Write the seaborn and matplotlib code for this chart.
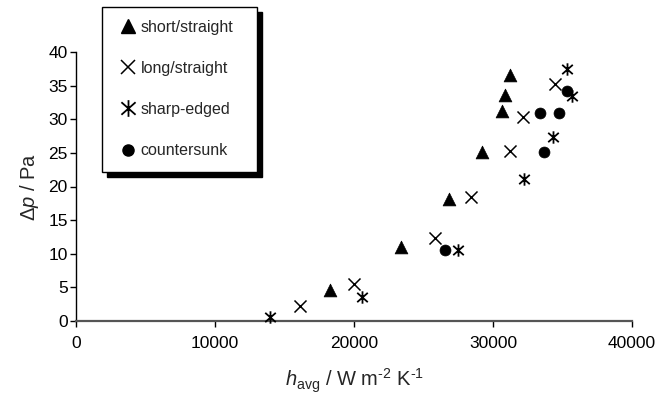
import numpy as np
import pandas as pd
import matplotlib
matplotlib.use("Agg")
import matplotlib.pyplot as plt
from matplotlib.path import Path
from matplotlib.lines import Line2D
from matplotlib.patches import Rectangle
import seaborn as sns

# ---- data ----
short_x = [18270, 23370, 26860, 29240, 30630, 30880, 31190]
short_y = [4.6, 11.0, 18.2, 25.1, 31.2, 33.6, 36.6]

long_x = [16100, 20030, 25810, 28410, 31190, 32180, 34470]
long_y = [2.3, 5.5, 12.3, 18.4, 25.3, 30.3, 35.3]

sharp_x = [13940, 20590, 27450, 32240, 34310, 35300, 35700]
sharp_y = [0.6, 3.5, 10.6, 21.1, 27.4, 37.5, 33.5]

csk_x = [26520, 33380, 34780, 33660, 35330]
csk_y = [10.5, 31.0, 31.0, 25.2, 34.2]

labels = ["short/straight", "long/straight", "sharp-edged", "countersunk"]
x_ticks = [0, 10000, 20000, 30000, 40000]
y_ticks = [0, 5, 10, 15, 20, 25, 30, 35, 40]

# ---- style ----
sns.set_style("white")
plt.rcParams["font.family"] = ["Liberation Sans", "DejaVu Sans"]
plt.rcParams["mathtext.fontset"] = "custom"
plt.rcParams["mathtext.rm"] = "Liberation Sans"
plt.rcParams["mathtext.it"] = "Liberation Sans:italic"
plt.rcParams["mathtext.default"] = "regular"

# asterisk marker: vertical line + X
ast_path = Path(
    [(0, -1), (0, 1), (-0.85, -0.75), (0.85, 0.75), (-0.85, 0.75), (0.85, -0.75)],
    [Path.MOVETO, Path.LINETO, Path.MOVETO, Path.LINETO, Path.MOVETO, Path.LINETO],
)

fig = plt.figure(figsize=(6.66, 3.97), dpi=100)
ax = fig.add_axes([76 / 666, 1 - 321 / 397, (632 - 76) / 666, (321 - 52) / 397])

df_s = pd.DataFrame({"x": short_x, "y": short_y})
df_l = pd.DataFrame({"x": long_x, "y": long_y})
df_a = pd.DataFrame({"x": sharp_x, "y": sharp_y})
df_c = pd.DataFrame({"x": csk_x, "y": csk_y})

sns.scatterplot(data=df_s, x="x", y="y", marker="^", s=85, color="black",
                edgecolor="black", linewidth=0.5, ax=ax, clip_on=False, zorder=3)
sns.scatterplot(data=df_l, x="x", y="y", marker="x", s=75, color="black",
                linewidth=1.1, ax=ax, clip_on=False, zorder=3)
sns.scatterplot(data=df_a, x="x", y="y", marker=ast_path, s=80, color="black",
                edgecolor="black", linewidth=1.3, ax=ax, clip_on=False, zorder=3)
sns.scatterplot(data=df_c, x="x", y="y", marker="o", s=62, color="black",
                edgecolor="black", linewidth=0.5, ax=ax, clip_on=False, zorder=3)

ax.set_xlim(0, 40000)
ax.set_ylim(0, 40)
ax.set_xticks(x_ticks)
ax.set_yticks(y_ticks)
ax.set_xticklabels([str(v) for v in x_ticks])
ax.set_yticklabels([str(v) for v in y_ticks])
for sp in ["top", "right"]:
    ax.spines[sp].set_visible(False)
ax.spines["left"].set_color("black")
ax.spines["left"].set_linewidth(1.0)
ax.spines["bottom"].set_color("#555555")
ax.spines["bottom"].set_linewidth(1.6)
ax.tick_params(axis="both", direction="out", length=4, width=1, color="black",
               labelsize=12.5, pad=2, labelcolor="black", bottom=True, left=True)
ax.tick_params(axis="x", pad=7)

ax.set_xlabel(r"$\mathit{h}_{\mathrm{avg}}$ / W m$^{\text{-}2}$ K$^{\text{-}1}$", fontsize=14.5, labelpad=11)
ax.set_ylabel(r"$\Delta\mathit{p}$ / Pa", fontsize=14.5, labelpad=5)

# legend box with black shadow
bx0, by0, bx1, by1 = 102, 7, 257, 172  # pixel coords (top-left origin)
shadow = Rectangle(((bx0 + 5) / 666, 1 - (by1 + 5) / 397), (bx1 - bx0) / 666,
                   (by1 - by0) / 397, transform=fig.transFigure,
                   facecolor="black", edgecolor="black", zorder=5)
box = Rectangle((bx0 / 666, 1 - by1 / 397), (bx1 - bx0) / 666, (by1 - by0) / 397,
                transform=fig.transFigure, facecolor="white", edgecolor="black",
                linewidth=1.0, zorder=6)
fig.add_artist(shadow)
fig.add_artist(box)

handles = [
    Line2D([], [], marker="^", linestyle="none", color="black", markersize=10),
    Line2D([], [], marker="x", linestyle="none", color="black", markersize=9.5, markeredgewidth=1.1),
    Line2D([], [], marker=ast_path, linestyle="none", color="black", markersize=12, markeredgewidth=1.3),
    Line2D([], [], marker="o", linestyle="none", color="black", markersize=8),
]
leg = fig.legend(handles, labels, loc="upper left", bbox_to_anchor=(120 / 666, 1 - 20 / 397),
                 frameon=False, fontsize=11.5, handlelength=1.0, handletextpad=0.3,
                 labelspacing=1.63, borderpad=0, borderaxespad=0)
leg.set_zorder(7)

fig.savefig("out.png", dpi=100)
